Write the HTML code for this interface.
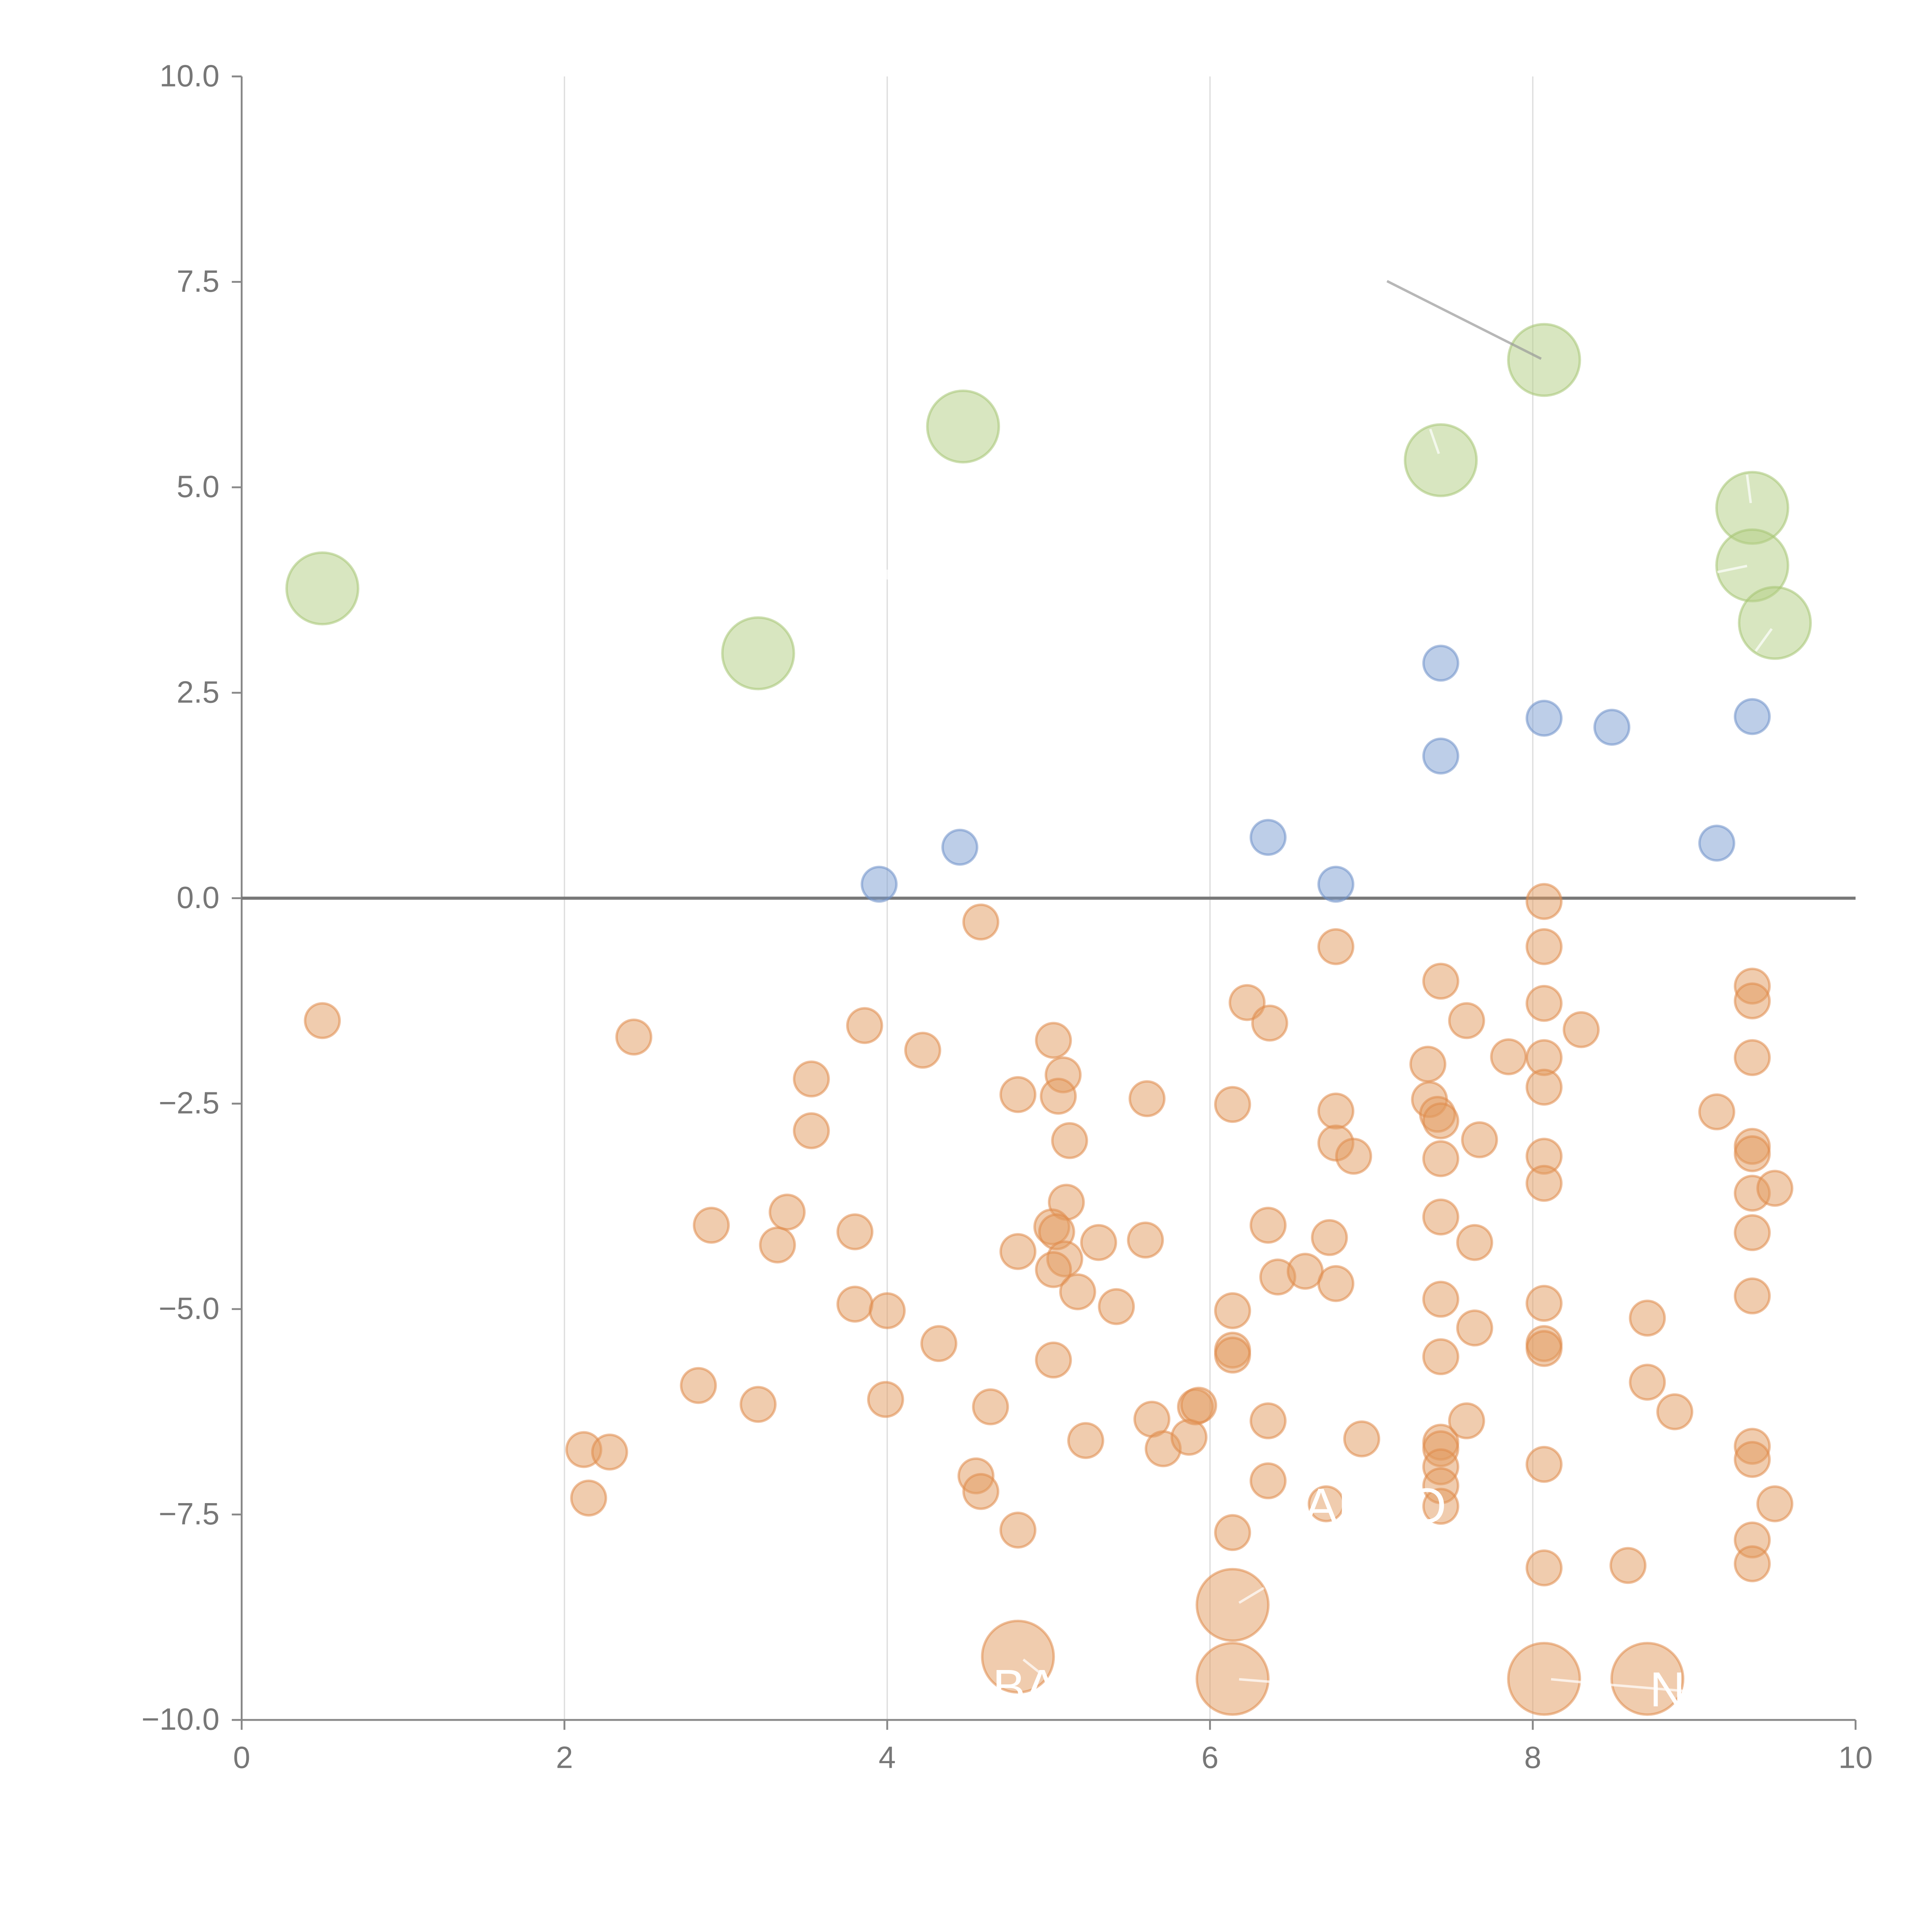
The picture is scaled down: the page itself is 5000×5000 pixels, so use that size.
<!DOCTYPE html>
<html><head><meta charset="utf-8"><style>
html,body{margin:0;padding:0;background:#fff}
svg{display:block}
text{font-family:"Liberation Sans",sans-serif}
</style></head><body>
<svg id="chart" width="5000" height="5000" viewBox="0 0 1567 1567" xmlns="http://www.w3.org/2000/svg">
<g id="grid"></g>
<g id="axes"></g>
<g id="marks"></g>
<g id="annot"></g>
</svg>
<script>
const orangeX=[0.50,2.43,2.12,2.28,2.15,2.83,2.91,3.20,3.32,3.38,3.53,3.53,3.86,3.80,3.80,4.00,3.99,4.22,4.32,4.58,4.64,4.55,4.58,4.81,4.81,4.81,5.03,5.09,5.06,5.13,5.11,5.02,5.05,5.10,5.03,5.18,5.03,5.31,5.42,5.23,5.61,5.60,5.64,5.71,5.87,5.91,5.93,6.14,6.14,6.14,6.14,6.14,6.23,6.37,6.36,6.42,6.59,6.36,6.36,6.78,6.78,6.78,6.89,6.74,6.78,6.94,6.72,7.35,7.36,7.43,7.41,7.43,7.43,7.43,7.43,7.43,7.43,7.43,7.43,7.43,7.43,7.59,7.67,7.64,7.64,7.59,7.85,8.07,8.07,8.07,8.07,8.07,8.07,8.07,8.07,8.07,8.07,8.07,8.07,8.30,8.59,8.71,8.71,8.88,9.14,9.36,9.36,9.36,9.36,9.36,9.36,9.50,9.36,9.36,9.36,9.36,9.36,9.36,9.50];
const orangeY=[-1.49,-1.69,-6.71,-6.74,-7.30,-5.93,-3.98,-6.16,-4.22,-3.82,-2.20,-2.83,-1.55,-4.06,-4.94,-5.02,-6.10,-1.85,-5.42,-0.29,-6.19,-7.03,-7.22,-2.39,-4.30,-7.69,-1.73,-2.15,-2.41,-2.95,-3.70,-4.00,-4.06,-4.39,-4.52,-4.79,-5.62,-4.19,-4.97,-6.60,-2.44,-4.16,-6.34,-6.70,-6.56,-6.19,-6.17,-2.51,-5.02,-5.50,-5.56,-7.72,-1.27,-1.52,-3.98,-4.61,-4.54,-6.36,-7.09,-0.59,-2.59,-2.98,-3.14,-4.13,-4.69,-6.58,-7.37,-2.02,-2.45,-1.01,-2.63,-2.71,-3.17,-3.88,-4.88,-5.58,-6.62,-6.70,-6.92,-7.15,-7.40,-1.49,-2.94,-4.19,-5.23,-6.36,-1.93,-0.04,-0.59,-1.28,-1.94,-2.30,-3.14,-3.47,-4.93,-5.42,-5.48,-6.89,-8.15,-1.60,-8.12,-5.11,-5.89,-6.25,-2.60,-1.07,-1.25,-1.94,-3.02,-3.11,-3.59,-3.53,-4.07,-4.84,-6.67,-6.83,-7.81,-8.10,-7.37];
const bigOrangeX=[6.14,4.81,6.14,8.07,8.71];
const bigOrangeY=[-8.60,-9.23,-9.50,-9.50,-9.50];
const blueX=[3.95,4.45,6.36,6.78,7.43,7.43,8.07,8.49,9.14,9.36];
const blueY=[0.17,0.62,0.74,0.17,2.86,1.73,2.19,2.08,0.67,2.21];
const greenX=[0.50,3.20,4.47,7.43,8.07,9.36,9.36,9.50];
const greenY=[3.77,2.98,5.74,5.33,6.55,4.75,4.05,3.35];
const xTicks=[0,2,4,6,8,10];
const yTicks=[10,7.5,5,2.5,0,-2.5,-5,-7.5,-10];

const NS="http://www.w3.org/2000/svg";
const X0=196,X1=1505,YT=62,YB=1395;
function sx(v){return X0+(v-0)/(10-0)*(X1-X0);}
function sy(v){return YB-(v+10)/20*(YB-YT);}
function mk(tag,attrs,parent){const e=document.createElementNS(NS,tag);for(const k in attrs)e.setAttribute(k,attrs[k]);parent.appendChild(e);return e;}
const grid=document.getElementById('grid'),axes=document.getElementById('axes'),marks=document.getElementById('marks'),annot=document.getElementById('annot');

xTicks.forEach(t=>{
  if(t>0&&t<10){const g=mk('line',{x1:sx(t),x2:sx(t),y1:YT,y2:YB,stroke:'#dcdcdc','stroke-width':1},grid);
  
  }
  const tk=mk('line',{x1:sx(t),x2:sx(t),y1:YB,y2:YB+8,stroke:'#888','stroke-width':1.5},axes);
  
  
  const lb=mk('text',{x:sx(t),y:YB+39,'text-anchor':'middle','font-size':25,fill:'#777'},axes);
  lb.textContent=String(t);
  
  
});
yTicks.forEach(t=>{
  const tk=mk('line',{x1:X0-8,x2:X0,y1:sy(t),y2:sy(t),stroke:'#888','stroke-width':1.5},axes);
  
  
  const lb=mk('text',{x:X0-18,y:sy(t)+8,'text-anchor':'end','font-size':25,fill:'#777'},axes);
  lb.textContent=(t<0?'\u2212':'')+Math.abs(t).toFixed(1);
  
  
});
const ya=mk('line',{x1:X0,x2:X0,y1:YT,y2:YB,stroke:'#888','stroke-width':1.5},axes);


const xa=mk('line',{x1:X0,x2:X1,y1:YB,y2:YB,stroke:'#888','stroke-width':1.5},axes);


const zl=mk('line',{x1:X0,x2:X1,y1:sy(0),y2:sy(0),stroke:'#777','stroke-width':2.5},axes);



function series(xs,ys,r,fill,stroke,name){
  xs.forEach((x,i)=>{
    const c=mk('circle',{cx:sx(x),cy:sy(ys[i]),r:r,fill:fill,'fill-opacity':0.5,stroke:stroke,'stroke-opacity':0.55,'stroke-width':2},marks);
    
    
  });
}
series(orangeX,orangeY,14,'#e29a5e','#e08a4a','orange-point');
series(bigOrangeX,bigOrangeY,29,'#e29a5e','#e08a4a','large-orange-point');
series(blueX,blueY,14,'#7c9dd2','#6e90c8','blue-point');
series(greenX,greenY,29,'#b2cd82','#a6c473','green-point');

[[1005,1300,1025,1288],[830,1346,845,1358],[1005,1362,1030,1364],[1258,1362,1300,1366],[1300,1366,1372,1372],[1167,368,1160,348],[1420,408,1417,385],[1417,459,1393,464],[1424,528,1437,510],[720,470,720,462]].forEach(l=>{
  const e=mk('line',{x1:l[0],y1:l[1],x2:l[2],y2:l[3],stroke:'#fff','stroke-opacity':0.7,'stroke-width':2},annot);
  
  
});
const gl=mk('line',{x1:1125,y1:228,x2:1250,y2:291,stroke:'#999','stroke-opacity':0.7,'stroke-width':2},annot);


[['BA',805,1382],['AI',1058,1235],['O',1142,1235],['N',1338,1384]].forEach(t=>{
  const e=mk('text',{x:t[1],y:t[2],'font-size':40,fill:'#fff'},annot);
  e.textContent=t[0];
  
  
});
</script>
</body></html>
